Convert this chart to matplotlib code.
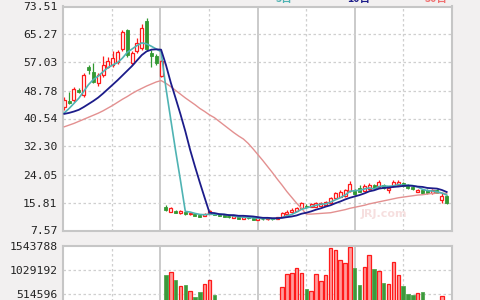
import matplotlib
matplotlib.use("Agg")
import matplotlib.pyplot as plt
import numpy as np

# ---------------- data ----------------
opens = [43.9, 45.6, 45.9, 49.0, 47.4, 55.6, 54.3, 51.0, 53.4, 55.8,
         56.3, 57.3, 61.0, 66.6, 57.0, 60.3, 61.3, 69.3, 59.8, 58.8,
         53.0, 14.6, 13.1, 13.4, 12.6, 12.9, 12.3, 12.4, 12.2, 11.8,
         12.4, 12.5, 12.3, 12.1, 11.8, 11.3, 11.8, 11.0, 11.6, 11.3,
         10.8, 11.1, 10.9, 11.2, 11.0, 11.6, 12.4, 12.9, 13.4, 14.3,
         14.9, 14.6, 14.6, 14.8, 15.1, 15.6, 17.0, 17.5, 17.7, 19.3,
         19.3, 20.2, 19.3, 19.8, 21.0, 20.4, 21.0, 19.4, 20.6, 21.0,
         21.6, 21.0, 20.5, 19.0, 19.6, 19.5, 18.6, 19.6, 16.6, 17.6]
highs = [46.9, 48.4, 49.9, 49.5, 53.8, 56.4, 56.8, 53.9, 58.8, 58.5,
         60.3, 60.6, 66.5, 67.0, 60.3, 64.3, 68.3, 70.0, 60.8, 59.5,
         57.8, 15.0, 14.5, 13.7, 13.5, 13.1, 12.8, 12.6, 12.4, 12.6,
         13.6, 12.7, 12.5, 12.3, 12.0, 11.9, 11.9, 11.7, 11.7, 11.4,
         11.3, 11.2, 11.3, 11.3, 11.6, 13.0, 13.6, 14.2, 14.6, 16.0,
         15.3, 15.6, 15.9, 15.9, 16.4, 17.3, 18.9, 19.5, 19.9, 22.0,
         19.8, 21.0, 21.2, 21.7, 21.3, 22.4, 21.4, 20.2, 22.5, 22.3,
         21.8, 21.2, 20.7, 19.8, 19.8, 19.7, 19.7, 19.8, 18.6, 17.9]
lows = [42.9, 44.8, 45.4, 48.0, 47.0, 53.6, 50.9, 50.0, 52.9, 55.3,
        55.8, 56.6, 60.5, 58.7, 56.3, 59.8, 60.6, 60.5, 55.8, 56.2,
        52.9, 13.3, 12.9, 12.6, 12.5, 12.1, 12.2, 11.8, 11.5, 11.7,
        12.3, 12.0, 11.8, 11.5, 11.3, 11.2, 11.0, 10.9, 11.1, 10.7,
        10.7, 10.8, 10.8, 10.8, 10.9, 11.5, 12.2, 12.8, 13.3, 14.1,
        14.2, 14.4, 14.5, 14.7, 15.0, 15.5, 16.8, 17.3, 17.5, 19.0,
        18.1, 18.8, 19.1, 19.6, 19.8, 20.2, 19.8, 18.5, 20.4, 20.8,
        20.5, 19.8, 19.5, 18.9, 18.4, 18.4, 18.4, 18.5, 15.8, 15.4]
closes = [46.1, 45.0, 49.1, 48.4, 53.3, 54.8, 51.3, 53.3, 56.3, 57.5,
          58.3, 60.1, 66.0, 59.3, 59.8, 62.8, 67.3, 61.0, 58.8, 56.8,
          57.5, 13.6, 14.1, 12.8, 13.3, 12.3, 12.6, 11.9, 11.6, 12.4,
          13.3, 12.2, 11.9, 11.6, 11.4, 11.8, 11.1, 11.5, 11.2, 10.8,
          11.2, 10.9, 11.2, 10.9, 11.5, 12.6, 13.1, 13.6, 14.1, 15.6,
          14.4, 15.3, 15.6, 15.6, 16.1, 17.0, 18.5, 19.0, 19.5, 21.4,
          18.3, 19.0, 20.7, 21.0, 20.0, 21.8, 20.0, 20.0, 21.8, 21.9,
          20.7, 20.0, 19.7, 19.5, 18.6, 18.6, 19.5, 18.7, 17.6, 15.6]

ma5 = [42.2, 43.5, 45.0, 46.5, 48.5, 50.5, 52.0, 53.0, 54.3, 55.5,
       56.3, 57.0, 58.3, 60.0, 61.0, 62.0, 62.8, 62.5, 61.8, 61.0,
       60.2, 49.5, 40.2, 31.0, 22.3, 13.2, 13.0, 12.6, 12.3, 12.2,
       12.4, 12.3, 12.3, 12.3, 12.1, 11.8, 11.6, 11.5, 11.4, 11.3,
       11.2, 11.1, 11.1, 11.0, 11.1, 11.4, 11.9, 12.3, 13.0, 13.8,
       14.2, 14.6, 15.0, 15.3, 15.4, 15.9, 16.6, 17.2, 18.0, 19.1,
       19.3, 19.4, 19.8, 20.1, 19.8, 20.5, 20.7, 20.6, 20.7, 21.1,
       20.9, 20.9, 20.8, 20.4, 19.7, 19.3, 19.2, 19.0, 18.6, 18.0]
ma10 = [41.9, 42.2, 42.6, 43.1, 43.9, 44.8, 45.7, 46.7, 47.9, 49.2,
        50.5, 51.8, 53.2, 54.6, 56.0, 57.6, 59.2, 60.3, 60.8, 60.9,
        60.8, 56.3, 51.1, 46.5, 41.8, 36.8, 31.3, 26.4, 21.7, 17.2,
        12.8, 12.7, 12.4, 12.3, 12.1, 12.1, 11.9, 11.9, 11.8, 11.7,
        11.5, 11.3, 11.3, 11.2, 11.2, 11.3, 11.5, 11.7, 12.0, 12.5,
        12.8, 13.2, 13.7, 14.1, 14.6, 15.0, 15.6, 16.1, 16.7, 17.2,
        17.6, 18.0, 18.5, 19.1, 19.4, 19.9, 20.1, 20.2, 20.4, 20.5,
        20.7, 20.8, 20.7, 20.5, 20.4, 20.1, 20.0, 19.9, 19.5, 18.9]
ma30 = [38.1, 38.6, 39.1, 39.7, 40.3, 40.9, 41.5, 42.1, 42.8, 43.6,
        44.4, 45.3, 46.2, 47.0, 47.9, 48.7, 49.4, 50.1, 50.7, 51.3,
        51.7, 50.9, 49.9, 48.8, 47.7, 46.6, 45.6, 44.6, 43.5, 42.6,
        41.6, 40.8, 39.7, 38.6, 37.5, 36.4, 35.4, 34.5, 33.2, 31.6,
        29.9, 28.2, 26.4, 24.6, 22.7, 20.9, 19.0, 17.3, 15.6, 14.1,
        12.4, 12.4, 12.5, 12.6, 12.7, 12.8, 13.1, 13.4, 13.7, 14.1,
        14.4, 14.7, 15.0, 15.4, 15.7, 16.0, 16.3, 16.6, 16.9, 17.2,
        17.4, 17.6, 17.8, 18.0, 18.1, 18.3, 18.5, 18.6, 18.6, 18.4]

N = None
volumes = [N] * 21 + [928400, 992700, 821200, 692600, 720400, 591800, 456700,
                      570300, 741900, 814800, 499600] + [N] * 13 + \
          [664700, 943400, 964900, 1084900, 964900, 621800, 591800, 943400,
           793300, 922000, 1513800, 1458000, 1243600, 1185700, 1535200,
           1084900, 720400, 1093500, 1357200, 1057000, 1014200, 750400,
           741900, 1213600, 922000, 692600, 521000, 499600, 536000, 570300,
           N, N, N, 471700, N]

price_ticks = [7.57, 15.81, 24.05, 32.30, 40.54, 48.78, 57.03, 65.27, 73.51]
vol_ticks = [514596, 1029192, 1543788]
legend_labels = ["5日", "10日", "30日"]

# ---------------- style ----------------
BG = "#f2f0f0"
RED = "#ff1a1a"
GREEN = "#339933"
SPINE = "#c6c6c6"
GRID = "#cfcfcf"
C5, C10, C30 = "#4fb3b3", "#1c1c8a", "#e39090"

fig = plt.figure(figsize=(4.8, 3.0), dpi=100, facecolor=BG)
W, H = 480.0, 300.0
L, R = 63.0, 452.0
ax = fig.add_axes([L / W, 1 - 230.5 / H, (R - L) / W, 224.0 / H])
axv = fig.add_axes([L / W, 1 - 318.3 / H, (R - L) / W, 71.8 / H])

x = np.arange(len(closes))
xlim = (-0.27, 80.1)

def frame(a):
    a.set_facecolor("white")
    a.set_xlim(*xlim)
    a.set_xticks([])
    for s in a.spines.values():
        s.set_color(SPINE)
        s.set_linewidth(1.5)
    a.tick_params(axis="y", length=0, pad=4, labelsize=8.2, labelcolor="#222222")
    for lab in a.get_yticklabels():
        lab.set_family("DejaVu Sans Mono")
    for k in range(1, 8):
        if k % 2 == 0:
            a.plot([k / 8, k / 8], [0, 1], transform=a.transAxes, color=SPINE,
                   lw=1.3, zorder=0.5)
        else:
            a.plot([k / 8, k / 8], [0, 1], transform=a.transAxes, color=GRID,
                   lw=0.9, ls=(0, (2, 2)), zorder=0.5)

# ---------------- price panel ----------------
ax.set_ylim(price_ticks[0], price_ticks[-1])
ax.set_yticks(price_ticks)
ax.set_yticklabels([f"{v:.2f}" for v in price_ticks])
frame(ax)
for v in price_ticks[1:-1]:
    ax.axhline(v, color=GRID, lw=0.9, ls=(0, (2, 2)), zorder=0.5)

o = np.array(opens); c = np.array(closes); h = np.array(highs); l = np.array(lows)
up = c >= o
wcol = np.where(up, RED, GREEN)
ax.vlines(x, l, h, colors=wcol, lw=0.9, zorder=2)
body_lo = np.minimum(o, c)
body_h = np.maximum(np.abs(c - o), 0.15)
ax.bar(x[up], body_h[up], bottom=body_lo[up], width=0.62, facecolor="white",
       edgecolor=RED, linewidth=0.9, zorder=2.5)
ax.bar(x[~up], body_h[~up], bottom=body_lo[~up], width=0.62, facecolor=GREEN,
       edgecolor=GREEN, linewidth=0.6, zorder=2.5)

ax.plot(x, ma30, color=C30, lw=1.0, zorder=3)
ax.plot(x, ma5, color=C5, lw=1.2, zorder=3.1)
ax.plot(x, ma10, color=C10, lw=1.3, zorder=3.2)

# faint watermark
fig.text(384 / W, 1 - 214 / H, "JRJ.com", color="#f6dfdf", fontsize=8,
         fontweight="bold", ha="center", va="center", zorder=1)

# ---------------- volume panel ----------------
axv.set_ylim(0, vol_ticks[-1])
axv.set_yticks(vol_ticks)
axv.set_yticklabels([str(v) for v in vol_ticks])
frame(axv)
for v in vol_ticks[:-1]:
    axv.axhline(v, color=GRID, lw=0.9, ls=(0, (2, 2)), zorder=0.5)

vx_up = [i for i, v in enumerate(volumes) if v is not None and closes[i] >= opens[i]]
vx_dn = [i for i, v in enumerate(volumes) if v is not None and closes[i] < opens[i]]
axv.bar(vx_up, [volumes[i] for i in vx_up], width=0.72, facecolor="#ff9b9b",
        edgecolor=RED, linewidth=0.9, zorder=2)
axv.bar(vx_dn, [volumes[i] for i in vx_dn], width=0.72, facecolor="#3c9a3c",
        edgecolor="#52a852", linewidth=0.6, zorder=2)

# ---------------- legend (cut off at the top edge, as in the reference) ----------------
for lab, col, xr in zip(legend_labels, [C5, C10, "#f07070"], [292, 370, 448]):
    fig.text(xr / W, 1 - 1.6 / H, lab, color=col, fontsize=7.6, ha="right",
             va="baseline", family=["Noto Sans CJK SC", "DejaVu Sans"],
             fontweight="bold")

fig.savefig("out.png", dpi=100, facecolor=BG)
